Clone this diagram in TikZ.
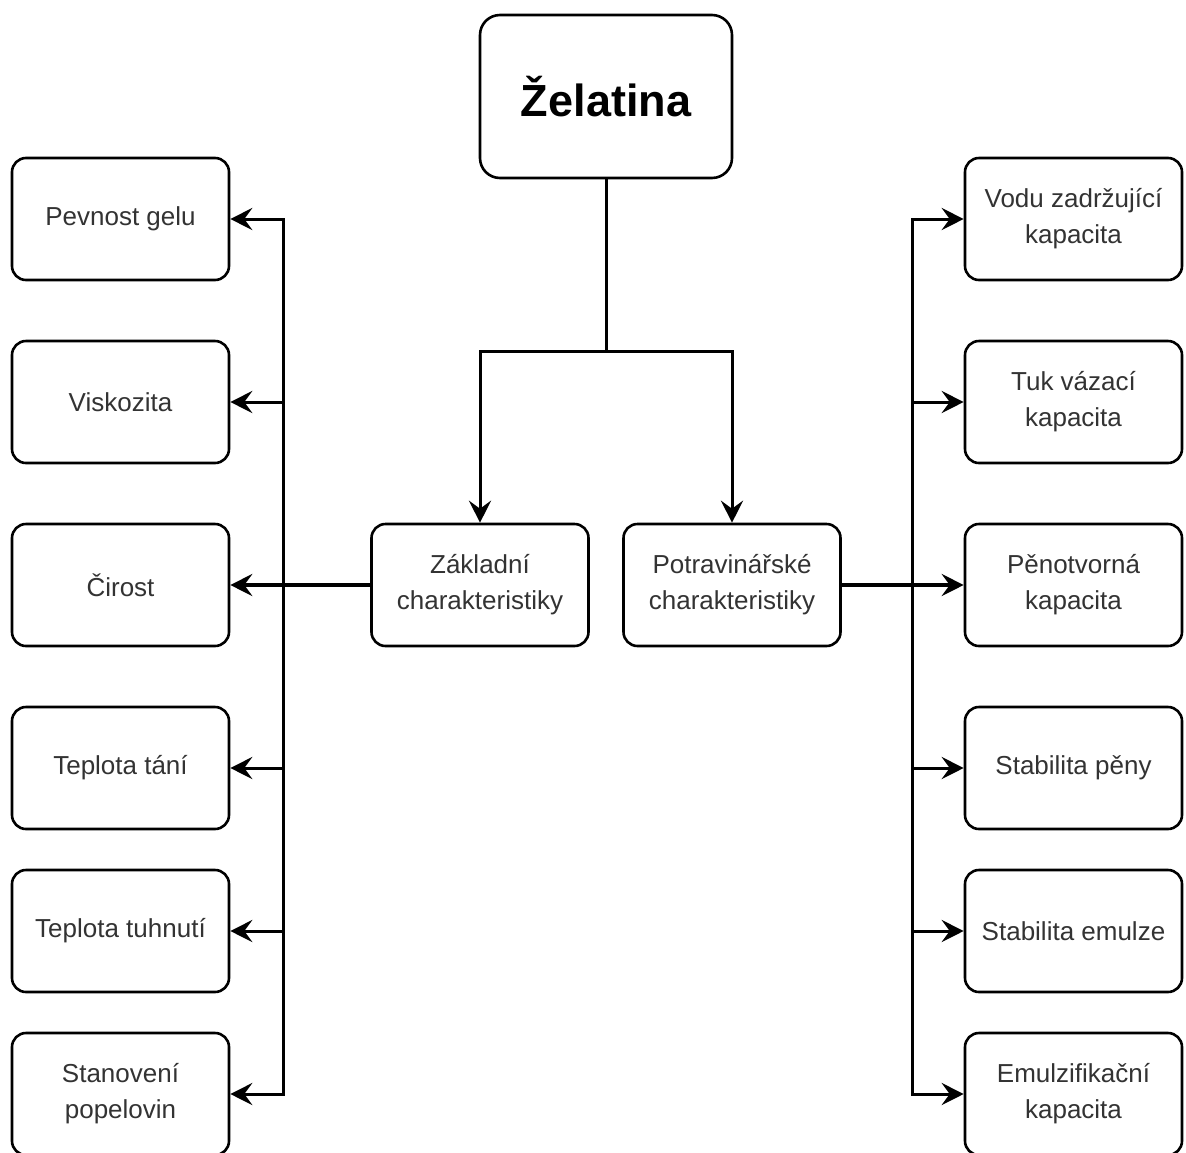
\documentclass[tikz,border=0pt]{standalone}
\usepackage{fontspec}
\setmainfont{Liberation Sans}
\usetikzlibrary{arrows.meta}
\definecolor{txt}{HTML}{333333}
\begin{document}
\begin{tikzpicture}[x=1pt,y=-1pt,
  box/.style={draw=black,line width=2.6pt,rounded corners=14pt,fill=white,
    minimum width=217pt,minimum height=122pt,inner sep=0pt,align=center,
    text=txt,font=\fontsize{26}{36}\selectfont},
  topbox/.style={draw=black,line width=2.6pt,rounded corners=20pt,fill=white,
    minimum width=252pt,minimum height=163pt,inner sep=0pt,align=center,
    font=\fontsize{45}{50}\selectfont\bfseries},
  line/.style={draw=black,line width=3pt},
  arr/.style={line,-{Stealth[length=22pt,width=22pt,inset=8pt]}}]
\useasboundingbox (0,0) rectangle (1186,1152);
\node[topbox] (zel) at (606,96.5) {Želatina};
\node[box] (zak) at (480,585) {Základní\\charakteristiky};
\node[box] (pot) at (732,585) {Potravinářské\\charakteristiky};
% left column
\node[box] (pev) at (120.5,219) {Pevnost gelu};
\node[box] (vis) at (120.5,402) {Viskozita};
\node[box] (cir) at (120.5,585) {Čirost};
\node[box] (tep) at (120.5,768) {Teplota tání};
\node[box] (tuh) at (120.5,931) {Teplota tuhnutí};
\node[box] (sta) at (120.5,1094) {Stanovení\\popelovin};
% right column
\node[box] (vod) at (1073.5,219) {Vodu zadržující\\kapacita};
\node[box] (tuk) at (1073.5,402) {Tuk vázací\\kapacita};
\node[box] (pen) at (1073.5,585) {Pěnotvorná\\kapacita};
\node[box] (stp) at (1073.5,768) {Stabilita pěny};
\node[box] (ste) at (1073.5,931) {Stabilita emulze};
\node[box] (emu) at (1073.5,1094) {Emulzifikační\\kapacita};
% connectors
\coordinate (split) at (606,351);
\coordinate (lbus) at (283,0);
\coordinate (rbus) at (912,0);
\draw[line] (zel.south) -- (split);
\draw[arr] (split) -| (zak.north);
\draw[arr] (split) -| (pot.north);
\draw[arr,line width=4pt] (zak.west) -- (cir.east);
\draw[arr,line width=4pt] (pot.east) -- (pen.west);
\draw[arr] (lbus |- sta.east) -- (lbus |- pev.east) -- (pev.east);
\draw[arr] (lbus |- pev.east) -- (lbus |- sta.east) -- (sta.east);
\draw[arr] (lbus |- vis.east) -- (vis.east);
\draw[arr] (lbus |- tep.east) -- (tep.east);
\draw[arr] (lbus |- tuh.east) -- (tuh.east);
\draw[arr] (rbus |- emu.west) -- (rbus |- vod.west) -- (vod.west);
\draw[arr] (rbus |- vod.west) -- (rbus |- emu.west) -- (emu.west);
\draw[arr] (rbus |- tuk.west) -- (tuk.west);
\draw[arr] (rbus |- stp.west) -- (stp.west);
\draw[arr] (rbus |- ste.west) -- (ste.west);
\end{tikzpicture}
\end{document}
